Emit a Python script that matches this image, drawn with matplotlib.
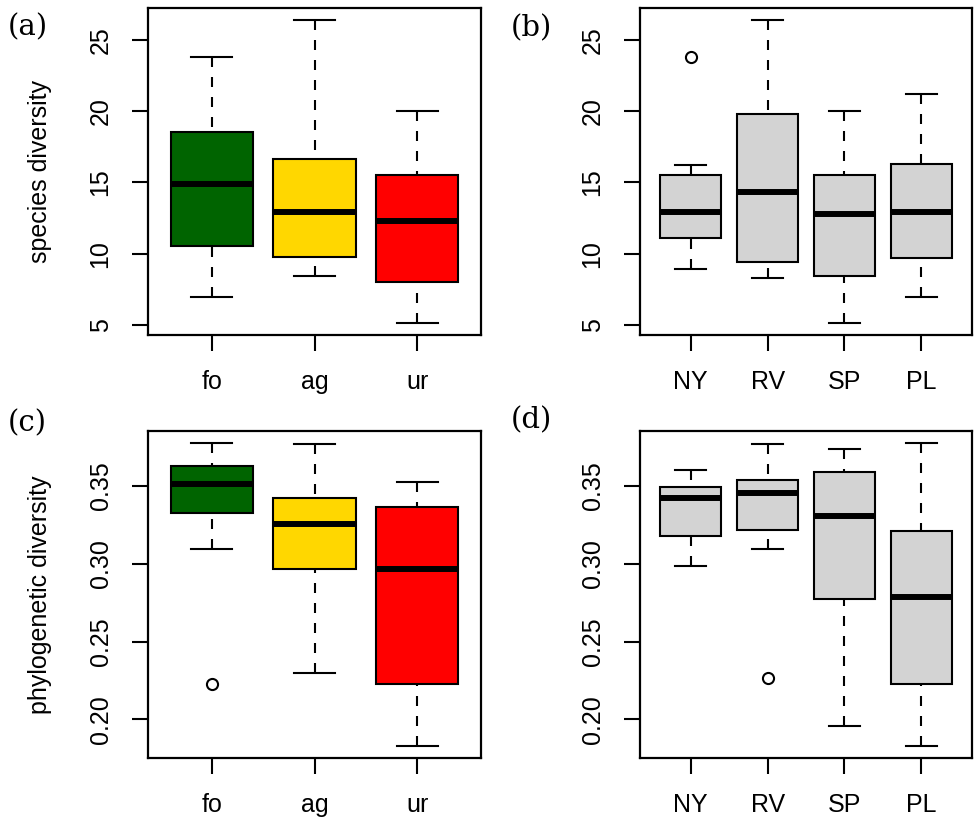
import matplotlib
matplotlib.use('Agg')
import matplotlib.pyplot as plt

plt.rcParams['font.family'] = ['Liberation Sans', 'DejaVu Sans']

# land use groups (panels a, c)
land = ['fo', 'ag', 'ur']
land_colors = ['#006400', '#FFD700', '#FF0000']
# sites (panels b, d)
sites = ['NY', 'RV', 'SP', 'PL']
site_colors = ['#D3D3D3'] * 4

# five-number summaries: low whisker, q1, median, q3, high whisker
sp_land_lo = [6.96, 8.46, 5.14]
sp_land_q1 = [10.54, 9.75, 8.02]
sp_land_med = [14.89, 12.93, 12.30]
sp_land_q3 = [18.57, 16.65, 15.55]
sp_land_hi = [23.78, 26.40, 20.00]
sp_land_out = [[], [], []]

sp_site_lo = [8.95, 8.30, 5.14, 6.99]
sp_site_q1 = [11.11, 9.44, 8.46, 9.68]
sp_site_med = [12.93, 14.31, 12.81, 12.93]
sp_site_q3 = [15.55, 19.83, 15.50, 16.30]
sp_site_hi = [16.23, 26.40, 20.00, 21.23]
sp_site_out = [[23.78], [], [], []]

pd_land_lo = [0.3093, 0.2300, 0.1829]
pd_land_q1 = [0.3324, 0.2966, 0.2227]
pd_land_med = [0.3515, 0.3256, 0.2966]
pd_land_q3 = [0.3629, 0.3423, 0.3365]
pd_land_hi = [0.3776, 0.3768, 0.3524]
pd_land_out = [[0.2229], [], []]

pd_site_lo = [0.2988, 0.3093, 0.1959, 0.1829]
pd_site_q1 = [0.3181, 0.3219, 0.2774, 0.2229]
pd_site_med = [0.3425, 0.3455, 0.3305, 0.2786]
pd_site_q3 = [0.3494, 0.3536, 0.3592, 0.3211]
pd_site_hi = [0.3601, 0.3768, 0.3738, 0.3776]
pd_site_out = [[], [0.2264], [], []]


def stats(lo, q1, med, q3, hi, out):
    return [dict(whislo=a, q1=b, med=c, q3=d, whishi=e, fliers=f)
            for a, b, c, d, e, f in zip(lo, q1, med, q3, hi, out)]


def rbox(ax, st, names, colors, yticks, ylim, fmt):
    n = len(st)
    bp = ax.bxp(st, positions=range(1, n + 1), widths=0.8, patch_artist=True,
                showfliers=True,
                boxprops=dict(linewidth=1.5, edgecolor='black'),
                medianprops=dict(color='black', linewidth=4.3, solid_capstyle='butt'),
                whiskerprops=dict(color='black', linewidth=1.5, linestyle=(0, (4.8, 4.8))),
                capprops=dict(color='black', linewidth=1.5),
                capwidths=0.4,
                flierprops=dict(marker='o', markerfacecolor='none',
                                markeredgecolor='black', markersize=8,
                                markeredgewidth=1.5))
    for patch, c in zip(bp['boxes'], colors):
        patch.set_facecolor(c)
    # R draws the dashes starting from the whisker end
    for w in bp['whiskers']:
        x, y = w.get_data()
        w.set_data(x[::-1], y[::-1])
    ext = 0.04 * n
    ax.set_xlim(0.5 - ext, n + 0.5 + ext)
    ax.set_ylim(*ylim)
    ax.set_xticks(range(1, n + 1))
    ax.set_xticklabels(names)
    ax.set_yticks(yticks)
    ax.set_yticklabels([fmt.format(v) for v in yticks], rotation=90, va='center')
    ax.tick_params(axis='both', length=11.5, width=1.5, labelsize=18, direction='out')
    ax.tick_params(axis='y', pad=14)
    ax.tick_params(axis='x', pad=14)
    for s in ax.spines.values():
        s.set_linewidth(1.6)


fig = plt.figure(figsize=(9.74, 8.25), dpi=100)
W, H = 974, 825


def axes_px(l, t, r, b):
    return fig.add_axes([l / W, 1 - b / H, (r - l) / W, (b - t) / H])


ax_a = axes_px(148, 8, 481, 335)
ax_b = axes_px(640, 8, 972, 335)
ax_c = axes_px(148, 431, 481, 758)
ax_d = axes_px(640, 431, 972, 758)

sp_ylim = (4.29, 27.25)
pd_ylim = (0.1751, 0.3854)
sp_ticks = [5, 10, 15, 20, 25]
pd_ticks = [0.20, 0.25, 0.30, 0.35]

rbox(ax_a, stats(sp_land_lo, sp_land_q1, sp_land_med, sp_land_q3, sp_land_hi, sp_land_out),
     land, land_colors, sp_ticks, sp_ylim, '{:g}')
rbox(ax_b, stats(sp_site_lo, sp_site_q1, sp_site_med, sp_site_q3, sp_site_hi, sp_site_out),
     sites, site_colors, sp_ticks, sp_ylim, '{:g}')
rbox(ax_c, stats(pd_land_lo, pd_land_q1, pd_land_med, pd_land_q3, pd_land_hi, pd_land_out),
     land, land_colors, pd_ticks, pd_ylim, '{:.2f}')
rbox(ax_d, stats(pd_site_lo, pd_site_q1, pd_site_med, pd_site_q3, pd_site_hi, pd_site_out),
     sites, site_colors, pd_ticks, pd_ylim, '{:.2f}')

ax_a.set_ylabel('species diversity', fontsize=18)
ax_a.yaxis.set_label_coords((52 - 148) / 333, 0.5)
ax_c.set_ylabel('phylogenetic diversity', fontsize=18)
ax_c.yaxis.set_label_coords((52 - 148) / 333, 0.5)

for lab, x, y in [('(a)', 8, 27), ('(b)', 511, 28), ('(c)', 8, 423), ('(d)', 511, 420)]:
    fig.text(x / W, 1 - y / H, lab, fontsize=21, family='DejaVu Serif',
             ha='left', va='center')

fig.savefig('out.png', dpi=100)
